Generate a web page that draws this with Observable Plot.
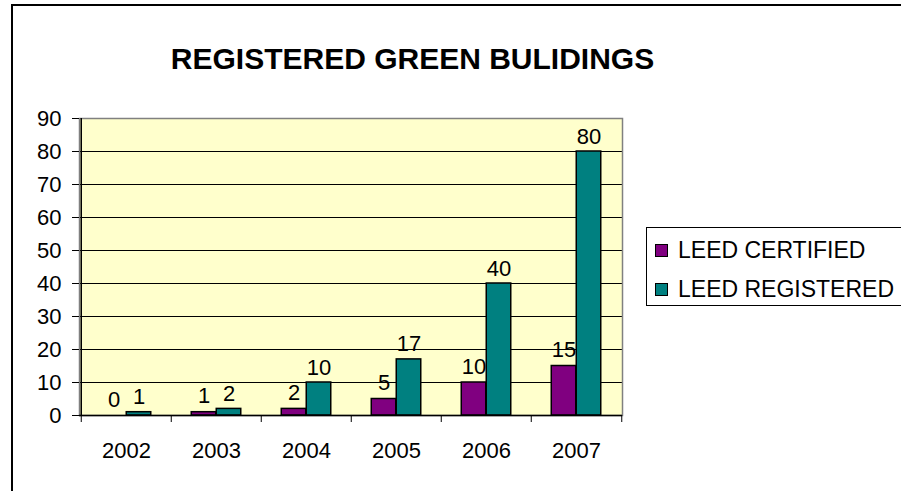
<!DOCTYPE html>
<html>
<head>
<meta charset="utf-8">
<script src="https://cdn.jsdelivr.net/npm/d3@7"></script>
<script src="https://cdn.jsdelivr.net/npm/@observablehq/plot@0.6"></script>
<style>
  html, body { margin: 0; padding: 0; background: #fff; }
  #wrap { position: relative; width: 901px; height: 491px; overflow: hidden; font-family: "Liberation Sans", Arial, sans-serif; }
  #border { position: absolute; left: 11px; top: 4px; width: 1200px; height: 1200px; border: 2px solid #000; box-sizing: border-box; }
  #title { position: absolute; left: 0; width: 825px; top: 42px; text-align: center; font-weight: bold; font-size: 30px; color: #000; white-space: nowrap; }
  #chart { position: absolute; left: 0; top: 0; }
  #legend { position: absolute; left: 646px; top: 227px; width: 400px; height: 79px; border: 1px solid #000; box-sizing: border-box; background: #fff; }
  .item { position: absolute; left: 8px; height: 30px; font-size: 23px; white-space: nowrap; color: #000; }
  .sw { position: absolute; left: 0; width: 13px; height: 13px; border: 1px solid #000; box-sizing: border-box; }
  .lab { position: absolute; left: 23px; top: 0; line-height: 30px; }
</style>
</head>
<body>
<div id="wrap">
  <div id="border"></div>
  <div id="chart"></div>
  <div id="title">REGISTERED GREEN BULIDINGS</div>
  <div id="legend"></div>
</div>
<script>
const years = ["2002", "2003", "2004", "2005", "2006", "2007"];
const certified = [0, 1, 2, 5, 10, 15];
const registered = [1, 2, 10, 17, 40, 80];
const seriesNames = ["LEED CERTIFIED", "LEED REGISTERED"];
const seriesColors = ["#800080", "#008080"];
const yTicks = [0, 10, 20, 30, 40, 50, 60, 70, 80, 90];
const chartTitle = "REGISTERED GREEN BULIDINGS";

const rows = years.flatMap((year, i) => [
  {year, series: seriesNames[0], value: certified[i]},
  {year, series: seriesNames[1], value: registered[i]}
]);

const W = 901, H = 491, mL = 79, mR = 279, mT = 118, mB = 76;
const bw = (W - mL - mR) / years.length;     // band width
const barW = 25;                              // bar width
const pad = (bw - 2 * barW) / 2;              // space on each side of a bar pair

const cert = rows.filter(d => d.series === seriesNames[0]);
const reg = rows.filter(d => d.series === seriesNames[1]);

const chart = Plot.plot({
  width: W, height: H,
  marginLeft: mL, marginRight: mR, marginTop: mT, marginBottom: mB,
  x: {domain: years, padding: 0},
  y: {domain: [0, 90]},
  style: {fontFamily: "'Liberation Sans', Arial, sans-serif", fontSize: "22px", background: "transparent", color: "#000", overflow: "visible"},
  marks: [
    Plot.frame({fill: "#FFFFCC", stroke: "none"}),
    Plot.gridY(yTicks.slice(1), {stroke: "#000", strokeOpacity: 1, strokeWidth: 1}),
    Plot.frame({stroke: "#808080", strokeWidth: 1.5}),
    Plot.barY(cert, {x: "year", y: "value", fill: seriesColors[0], stroke: "#000", strokeWidth: 1.5, insetLeft: pad, insetRight: pad + barW}),
    Plot.barY(reg, {x: "year", y: "value", fill: seriesColors[1], stroke: "#000", strokeWidth: 1.5, insetLeft: pad + barW, insetRight: pad}),
    Plot.text(cert, {x: "year", y: "value", text: d => String(d.value), dx: -barW / 2, dy: -9, lineAnchor: "bottom", fontSize: 22, fill: "#000"}),
    Plot.text(reg, {x: "year", y: "value", text: d => String(d.value), dx: barW / 2, dy: -8, lineAnchor: "bottom", fontSize: 22, fill: "#000"}),
    Plot.ruleY([0], {stroke: "#000", strokeWidth: 1.5}),
    Plot.ruleX([years[0]], {dx: -bw / 2, y1: 0, y2: 90, stroke: "#000", strokeWidth: 1.5}),
    Plot.ruleX(years, {x: d => d, dx: -bw / 2, y1: 0, y2: 0, insetBottom: -7, stroke: "#000"}),
    Plot.ruleX([years[years.length - 1]], {dx: bw / 2, y1: 0, y2: 0, insetBottom: -7, stroke: "#000"}),
    Plot.axisY(yTicks, {tickSize: 7, tickPadding: 11, fontSize: 22, stroke: "#000", label: null}),
    Plot.axisX({tickSize: 0, tickPadding: 27, fontSize: 22, label: null})
  ]
});
document.getElementById("chart").appendChild(chart);

document.getElementById("title").textContent = chartTitle;
const legend = document.getElementById("legend");
seriesNames.forEach((name, i) => {
  const item = document.createElement("div");
  item.className = "item";
  item.style.top = (7 + i * 39) + "px";
  const sw = document.createElement("div");
  sw.className = "sw";
  sw.style.top = "9px";
  sw.style.background = seriesColors[i];
  const lab = document.createElement("div");
  lab.className = "lab";
  lab.textContent = name;
  item.appendChild(sw);
  item.appendChild(lab);
  legend.appendChild(item);
});
</script>
</body>
</html>
